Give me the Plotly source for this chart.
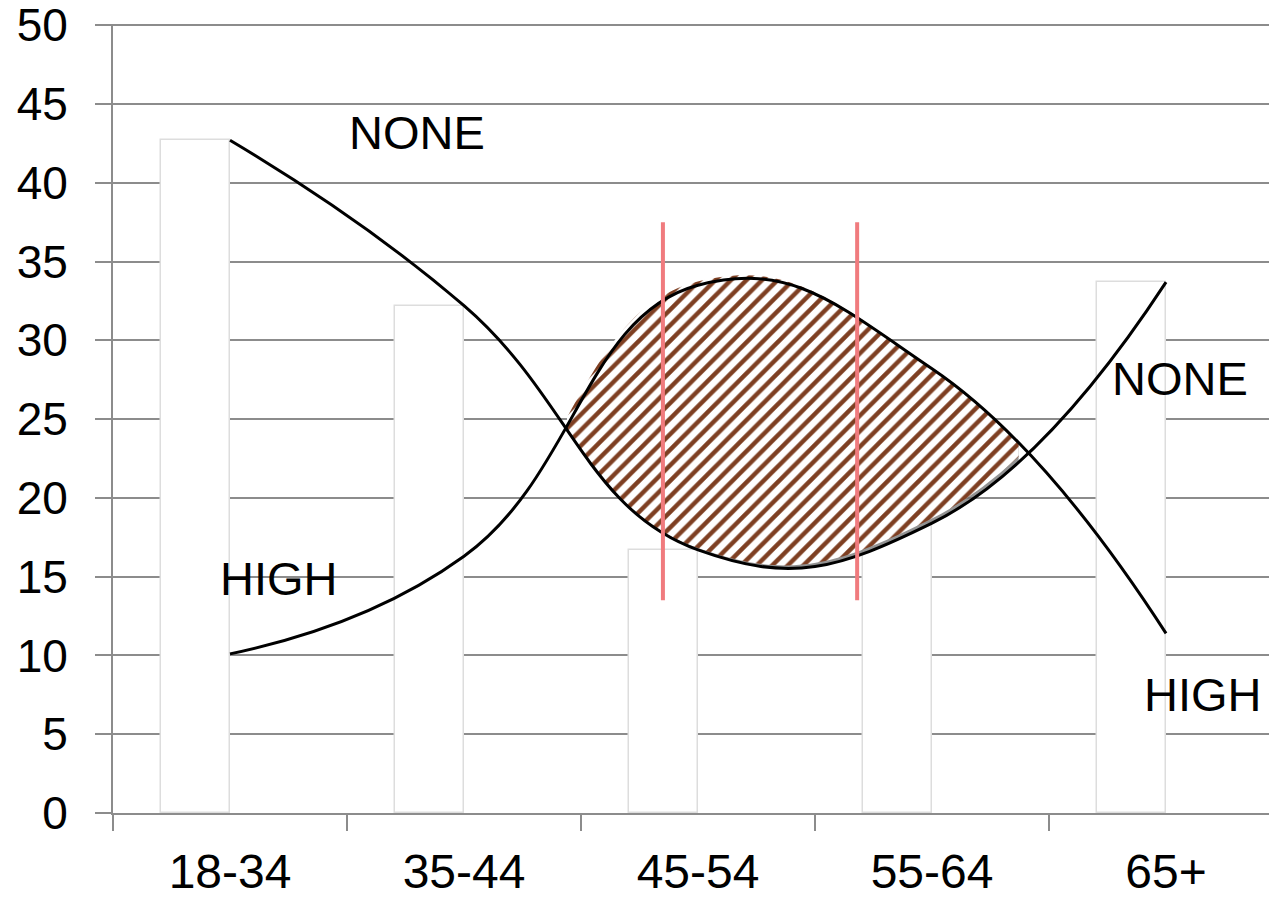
import plotly.graph_objects as go

# ---- data ----
categories = ["18-34", "35-44", "45-54", "55-64", "65+"]
none_values = [42.7, 32.2, 16.7, 18.4, 33.7]
high_values = [10.1, 16.3, 33.5, 28.2, 11.4]
y_tick_values = [0, 5, 10, 15, 20, 25, 30, 35, 40, 45, 50]

# ---- layout / style constants ----
FONT = "Liberation Sans, Arial, sans-serif"
GRID = "#8C8C8C"
X_RANGE = [-0.5, 4.44]
Y_RANGE = [0, 50.08]
LENS = [1.44, 3.37]          # window (category units) where the hatched lens lies
MARKERS_X = [1.85, 2.68]     # red vertical markers
MARKERS_Y = [13.5, 37.5]
SMOOTH = 1.3
PLOT_W, PLOT_H = 1156, 789
SHIFT_PX = 3                 # hatched shape offset (up-left) revealing a shadow

span = X_RANGE[1] - X_RANGE[0]
lens_domain = [(LENS[0] - X_RANGE[0]) / span, (LENS[1] - X_RANGE[0]) / span]
dx = SHIFT_PX * span / PLOT_W
dy = SHIFT_PX * (Y_RANGE[1] - Y_RANGE[0]) / PLOT_H

fig = go.Figure()

# white bars (NONE values)
fig.add_trace(go.Bar(
    x=categories, y=none_values, width=0.295, offset=-0.295,
    marker=dict(color="white", line=dict(color="#DDDDDD", width=1.5)),
    xaxis="x", yaxis="y", hoverinfo="skip"))

spline = dict(shape="spline", smoothing=SMOOTH)

# shadow of the lens
fig.add_trace(go.Scatter(
    x=categories, y=none_values, mode="lines",
    line=dict(width=0, **spline), xaxis="x2", yaxis="y2", hoverinfo="skip"))
fig.add_trace(go.Scatter(
    x=categories, y=high_values, mode="lines",
    line=dict(width=0, **spline), fill="tonexty", fillcolor="rgba(110,110,110,0.75)",
    xaxis="x2", yaxis="y2", hoverinfo="skip"))

# hatched lens between the two smoothed curves (clipped to the lens window)
fig.add_trace(go.Scatter(
    x=categories, y=none_values, mode="lines",
    line=dict(width=0, **spline), xaxis="x3", yaxis="y3", hoverinfo="skip"))
fig.add_trace(go.Scatter(
    x=categories, y=high_values, mode="lines",
    line=dict(width=0, **spline), fill="tonexty", fillcolor="white",
    fillpattern=dict(shape="/", fgcolor="#7E3F22", bgcolor="white",
                     size=11, solidity=0.4, fillmode="replace"),
    xaxis="x3", yaxis="y3", hoverinfo="skip"))

# black smoothed curves
for vals in (none_values, high_values):
    fig.add_trace(go.Scatter(
        x=categories, y=vals, mode="lines",
        line=dict(color="black", width=3, **spline),
        xaxis="x4", yaxis="y4", hoverinfo="skip"))

# red vertical markers
for mx in MARKERS_X:
    fig.add_shape(type="line", xref="x", yref="y", x0=mx, x1=mx,
                  y0=MARKERS_Y[0], y1=MARKERS_Y[1],
                  line=dict(color="#F07B7E", width=4), layer="above")

# labels
labels = [("NONE", 0.80, 43.2), ("HIGH", 0.21, 14.9),
          ("NONE", 4.06, 27.6), ("HIGH", 4.16, 7.5)]
for txt, lx, ly in labels:
    fig.add_annotation(text=txt, x=lx, y=ly, xref="x", yref="y",
                       showarrow=False, font=dict(family=FONT, size=47, color="black"))

hidden_cat = dict(type="category", categoryorder="array", categoryarray=categories,
                  visible=False, showgrid=False, zeroline=False)
hidden_y = dict(visible=False, showgrid=False, zeroline=False, domain=[0, 1])

fig.update_layout(
    width=1269, height=899,
    margin=dict(l=113, r=0, t=24, b=86, autoexpand=False),
    paper_bgcolor="white", plot_bgcolor="rgba(0,0,0,0)",
    showlegend=False, bargap=0,
    font=dict(family=FONT, color="black"),
    xaxis=dict(type="category", categoryorder="array", categoryarray=categories,
               range=X_RANGE, domain=[0, 1], anchor="y", automargin=False,
               tickson="boundaries", ticks="outside", ticklen=16, tickwidth=2,
               tickcolor=GRID, showline=True, linecolor=GRID, linewidth=2,
               showgrid=False, tickfont=dict(family=FONT, size=48, color="black"),
               ticklabelstandoff=15),
    yaxis=dict(range=Y_RANGE, tickvals=y_tick_values, domain=[0, 1], anchor="x",
               automargin=False,
               showgrid=True, gridcolor=GRID, gridwidth=2, zeroline=False,
               showline=True, linecolor=GRID, linewidth=2,
               ticks="outside", ticklen=16, tickwidth=2, tickcolor=GRID,
               tickfont=dict(family=FONT, size=46, color="black"),
               ticklabelstandoff=18, ticklabeloverflow="allow"),
    xaxis2=dict(hidden_cat, range=LENS, domain=lens_domain, anchor="y2"),
    yaxis2=dict(hidden_y, range=Y_RANGE, anchor="x2"),
    xaxis3=dict(hidden_cat, range=[LENS[0] + dx, LENS[1] + dx], domain=lens_domain, anchor="y3"),
    yaxis3=dict(hidden_y, range=[Y_RANGE[0] - dy, Y_RANGE[1] - dy], anchor="x3"),
    xaxis4=dict(hidden_cat, range=X_RANGE, domain=[0, 1], anchor="y4"),
    yaxis4=dict(hidden_y, range=Y_RANGE, anchor="x4"),
)

fig.write_html("out.html")
